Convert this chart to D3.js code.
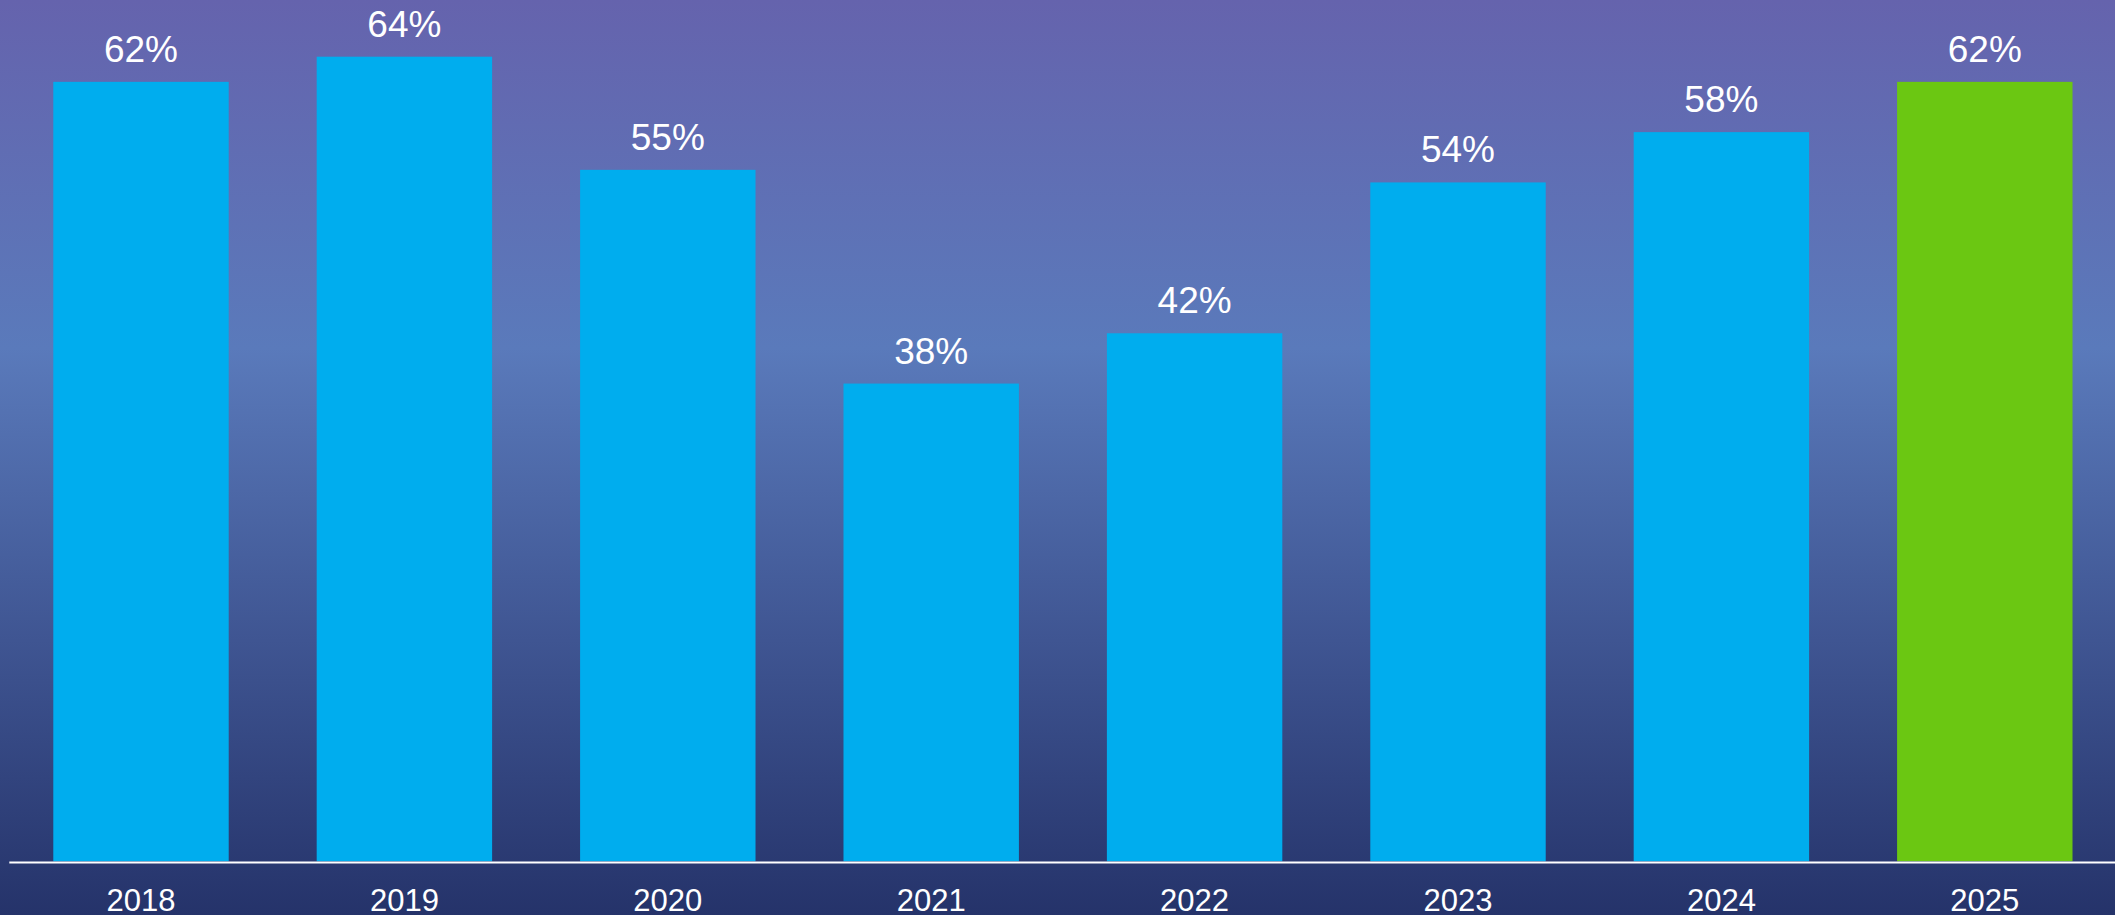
<!DOCTYPE html>
<html>
<head>
<meta charset="utf-8">
<script src="https://cdn.jsdelivr.net/npm/d3@7"></script>
<style>
html,body{margin:0;padding:0;overflow:hidden;}
svg{display:block;}
</style>
</head>
<body>
<svg id="chart" width="2115" height="915"></svg>
<script>
const years = ["2018","2019","2020","2021","2022","2023","2024","2025"];
const values = [62, 64, 55, 38, 42, 54, 58, 62];
const highlightYear = "2025";

const W = 2115, H = 915;
const svg = d3.select("#chart");

const defs = svg.append("defs");
const grad = defs.append("linearGradient").attr("id","bg").attr("x1",0).attr("y1",0).attr("x2",0).attr("y2",1);
[[0,"#6563AD"],[0.38,"#5A7ABB"],[0.7,"#3F5592"],[1,"#25336A"]].forEach(([o,c])=>{
  grad.append("stop").attr("offset",o).attr("stop-color",c);
});
svg.append("rect").attr("width",W).attr("height",H).attr("fill","url(#bg)");

const x = d3.scaleBand().domain(years).range([9.3, 2116.5]).paddingInner(0.334).paddingOuter(0.167);
const y = d3.scaleLinear().domain([0, 64]).range([861.3, 56.7]);

const data = years.map((yr,i)=>({year:yr, value:values[i]}));

svg.append("g").selectAll("rect").data(data).join("rect")
  .attr("x", d=>x(d.year))
  .attr("y", d=>y(d.value))
  .attr("width", x.bandwidth())
  .attr("height", d=>y(0)-y(d.value))
  .attr("fill", d=>d.year===highlightYear ? "#6BC712" : "#00ADEE");

svg.append("g").selectAll("text").data(data).join("text")
  .attr("x", d=>x(d.year)+x.bandwidth()/2)
  .attr("y", d=>y(d.value)-20)
  .attr("text-anchor","middle")
  .attr("font-family","'Liberation Sans', Arial, sans-serif")
  .attr("font-size", 37)
  .attr("fill","#fff")
  .text(d=>d.value+"%");

svg.append("line")
  .attr("x1", 9.3).attr("x2", W)
  .attr("y1", 862.6).attr("y2", 862.6)
  .attr("stroke","#fff").attr("stroke-width",2);

const axis = svg.append("g").attr("transform","translate(0,0)")
  .call(d3.axisBottom(x).tickSize(0));
axis.select(".domain").remove();
axis.selectAll("text")
  .attr("y", 910.5).attr("dy", null)
  .attr("font-family","'Liberation Sans', Arial, sans-serif")
  .attr("font-size", 31)
  .attr("fill","#fff");
</script>
</body>
</html>
